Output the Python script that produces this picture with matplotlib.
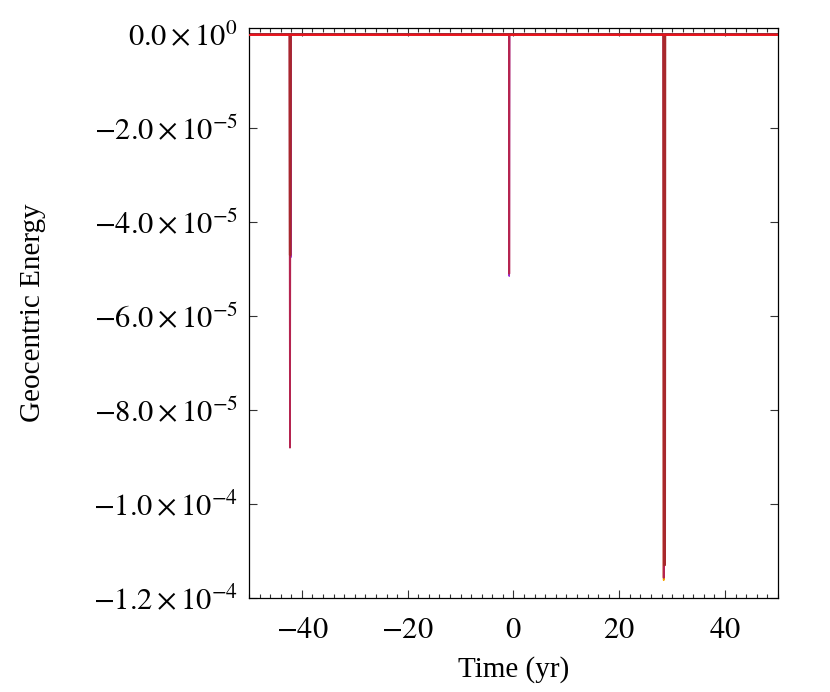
import math
import matplotlib
matplotlib.use("Agg")
import matplotlib.pyplot as plt
from matplotlib.ticker import FuncFormatter, MultipleLocator

# ---- data (time in yr, geocentric energy) ----
t_orange = [-50, 28.35, 28.40, 28.45, 50]
e_orange = [0.0, 0.0, -1.162e-4, 0.0, 0.0]

t_black = [-50, 28.35, 28.40, 28.45, 50]
e_black = [0.0, 0.0, -1.152e-4, 0.0, 0.0]

t_violet = [-50, -42.15, -42.10, -42.05, -0.85, -0.80, -0.75, 50]
e_violet = [0.0, 0.0, -4.75e-5, 0.0, 0.0, -5.15e-5, 0.0, 0.0]

t_crimson = [-50, -42.35, -42.25, -42.15, -0.85, -0.80, -0.75, 28.30, 28.40, 28.50, 50]
e_crimson = [0.0, 0.0, -8.8e-5, 0.0, 0.0, -5.1e-5, 0.0, 0.0, -1.157e-4, 0.0, 0.0]

t_darkred = [-50, -42.32, -42.28, -42.12, -42.08, 28.40, 28.45, 28.65, 28.70, 50]
e_darkred = [0.0, 0.0, -4.7e-5, -4.7e-5, 0.0, 0.0, -1.13e-4, -1.13e-4, 0.0, 0.0]

t_red = [-50, 50]
e_red = [-1.0e-7, -1.0e-7]

x_ticks = [-40, -20, 0, 20, 40]
y_ticks = [0.0, -2.0e-5, -4.0e-5, -6.0e-5, -8.0e-5, -1.0e-4, -1.2e-4]

plt.rcParams['font.family'] = ['Liberation Serif', 'DejaVu Serif']
plt.rcParams['mathtext.fontset'] = 'stix'

fig = plt.figure(figsize=(8.30, 6.92), dpi=100)
ax = fig.add_axes([0.300, 0.1358, 0.6373, 0.8237])

ax.plot(t_orange, e_orange, color='#f5a300', lw=1.2, zorder=2)
ax.plot(t_black, e_black, color='#111111', lw=1.0, zorder=2.1)
ax.plot(t_violet, e_violet, color='#9a30d8', lw=1.1, zorder=2.2)
ax.plot(t_crimson, e_crimson, color='#b52450', lw=1.3, zorder=2.3)
ax.plot(t_darkred, e_darkred, color='#a8282c', lw=1.4, zorder=2.4)
ax.plot(t_red, e_red, color='#e8141c', lw=1.4, zorder=3)

ax.set_xlim(-50, 50)
ax.set_ylim(-1.2e-4, 1.3e-6)
ax.set_xticks(x_ticks)
ax.set_yticks(y_ticks)
ax.xaxis.set_minor_locator(MultipleLocator(2))


def xfmt(v, pos):
    return r'$%d$' % int(round(v)) if v != 0 else r'$0$'


def yfmt(v, pos):
    if v == 0:
        return r'$0.0\times10^{0}$'
    exp = int(math.floor(math.log10(abs(v))))
    mant = v / 10 ** exp
    return r'$%.1f\times10^{%d}$' % (mant, exp)


ax.xaxis.set_major_formatter(FuncFormatter(xfmt))
ax.yaxis.set_major_formatter(FuncFormatter(yfmt))

ax.tick_params(which='both', direction='in', top=True, right=True,
               labelsize=22, width=0.8, color='#333333')
ax.tick_params(axis='x', which='major', length=6, pad=13)
ax.tick_params(axis='y', which='major', length=6, pad=8)
ax.tick_params(which='minor', length=3)
for s in ax.spines.values():
    s.set_linewidth(0.9)

ax.set_xlabel('Time (yr)', fontsize=21, labelpad=8)
ax.set_ylabel('Geocentric Energy', fontsize=21, labelpad=34)

fig.savefig('out.png', dpi=100)
